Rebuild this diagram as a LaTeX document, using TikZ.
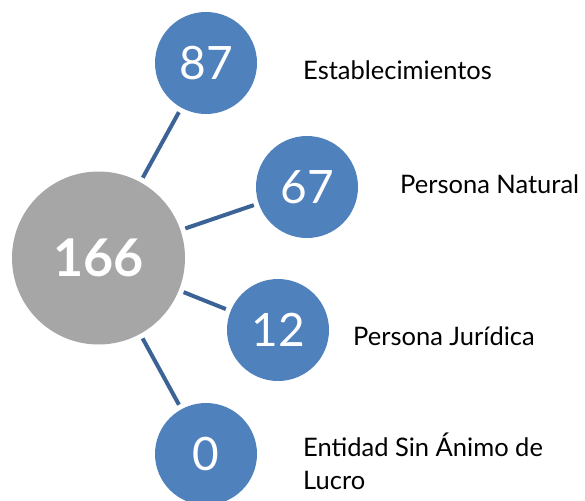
\documentclass[tikz,border=0pt]{standalone}
\usepackage{fontspec}
\setmainfont{Lato}
\usetikzlibrary{positioning}
\definecolor{circblue}{RGB}{79,129,189}
\definecolor{circgrey}{RGB}{166,166,166}
\definecolor{linkblue}{RGB}{60,99,150}

\begin{document}
\begin{tikzpicture}[x=1pt,y=-1pt,
	small/.style={circle,fill=circblue,minimum size=102pt,inner sep=0pt,text=white,font=\fontsize{46}{46}\selectfont},
	big/.style={circle,fill=circgrey,minimum size=173pt,inner sep=0pt,text=white,font=\bfseries\fontsize{52}{52}\selectfont},
	conn/.style={line width=4pt,color=linkblue,shorten <=5pt,shorten >=5pt},
	lab/.style={anchor=base west,inner sep=0pt,font=\fontsize{25.5}{33}\selectfont,align=left}]
				\useasboundingbox (0,0) rectangle (585,500);
				%Nodes
				\node[big]   (total) 	at 	(98.5,258) {166};
				\node[small] (estab) 	at 	(206,63)   {87};
				\node[small] (natural) 	at 	(307,187)  {67};
				\node[small] (juridica) at 	(278,330)  {12};
				\node[small] (lucro) 	at 	(206,454)  {0};
				
				\node[lab] (l-estab) 	at 	(303,80)  {Establecimientos};
				\node[lab] (l-natural) 	at 	(400,193) {Persona Natural};
				\node[lab] (l-juridica) at 	(353,345) {Persona Jurídica};
				\node[lab] (l-lucro) 	at 	(303,489) {Entidad Sin Ánimo de\\Lucro};
				
				%Lines
				\draw[conn] (total) -- (estab);
				\draw[conn] (total) -- (natural);
				\draw[conn] (total) -- (juridica);
				\draw[conn] (total) -- (lucro);
\end{tikzpicture}
\end{document}
